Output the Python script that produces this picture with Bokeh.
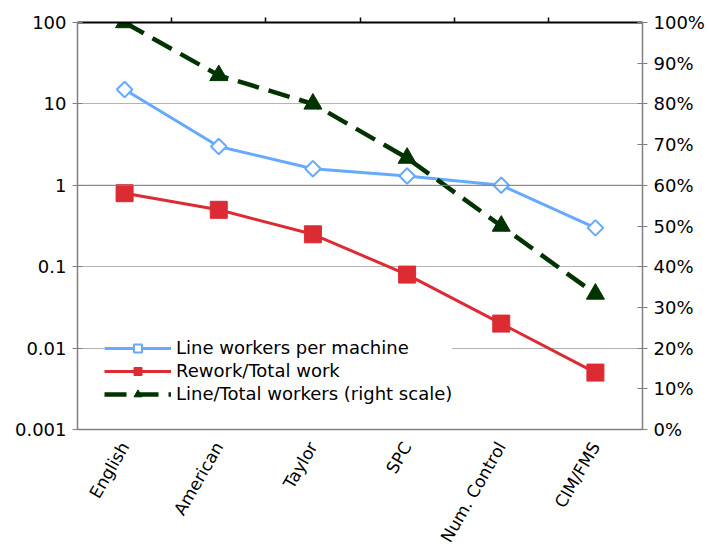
import numpy as np
from bokeh.plotting import figure
from bokeh.models import (Range1d, LinearAxis, FixedTicker, NumeralTickFormatter,
                          CustomJSTickFormatter, Legend, LegendItem, Span, LinearScale)
from bokeh.embed import file_html
from bokeh.resources import INLINE

categories = ["English", "American", "Taylor", "SPC", "Num. Control", "CIM/FMS"]
line_workers_per_machine = [15, 3, 1.6, 1.3, 1.0, 0.3]
rework_total_work = [0.8, 0.5, 0.25, 0.08, 0.02, 0.005]
line_total_workers = [1.0, 0.87, 0.80, 0.667, 0.50, 0.333]
left_ticks = [0.001, 0.01, 0.1, 1, 10, 100]
right_ticks = [0.0, 0.1, 0.2, 0.3, 0.4, 0.5, 0.6, 0.7, 0.8, 0.9, 1.0]
boundary_ticks = [1, 2, 3, 4, 5]

FONT = "DejaVu Sans"
BLUE = "#66aaff"
RED = "#dd2b33"
GREEN = "#003300"

p = figure(x_range=categories, y_range=Range1d(0.001, 100), y_axis_type="log",
           frame_width=565, frame_height=407, output_backend="svg",
           toolbar_location=None, background_fill_color="white",
           border_fill_color="white", outline_line_color=None,
           min_border_left=77, min_border_top=22, min_border_right=67,
           min_border_bottom=110)

p.extra_y_ranges = {"pct": Range1d(0, 1)}
p.extra_y_scales = {"pct": LinearScale()}

# Grid
p.xgrid.grid_line_color = None
p.ygrid.ticker = FixedTicker(ticks=left_ticks)
p.ygrid.grid_line_color = "#b3b3b3"
p.ygrid.grid_line_width = 1
p.add_layout(Span(location=1, dimension="width", line_color="#808080", line_width=1))

# Left axis
ya = p.yaxis[0]
ya.ticker = FixedTicker(ticks=left_ticks)
ya.formatter = CustomJSTickFormatter(code="return String(tick);")
ya.axis_line_color = "#808080"
ya.axis_line_width = 1.5
ya.major_tick_line_color = "#808080"
ya.major_tick_in = 5
ya.major_tick_out = 5
ya.minor_tick_line_color = None
ya.major_label_text_font = FONT
ya.major_label_text_font_size = "18px"
ya.major_label_text_color = "black"
ya.major_label_standoff = 6

# Right axis
ra = LinearAxis(y_range_name="pct", ticker=FixedTicker(ticks=right_ticks),
                formatter=NumeralTickFormatter(format="0%"))
ra.axis_line_color = "#808080"
ra.axis_line_width = 1.5
ra.major_tick_line_color = "#808080"
ra.major_tick_in = 5
ra.major_tick_out = 5
ra.minor_tick_line_color = None
ra.major_label_text_font = FONT
ra.major_label_text_font_size = "18px"
ra.major_label_text_color = "black"
ra.major_label_standoff = 6
p.add_layout(ra, "right")

# Bottom axis
xa = p.xaxis[0]
xa.axis_line_color = "#808080"
xa.axis_line_width = 1.5
xa.major_tick_line_color = None
xa.major_label_orientation = np.pi / 3
xa.major_label_text_font = FONT
xa.major_label_text_font_size = "17px"
xa.major_label_text_color = "black"
xa.major_label_standoff = 8

# Top axis (black line with ticks at category boundaries)
ta = LinearAxis(ticker=FixedTicker(ticks=boundary_ticks))
ta.axis_line_color = "black"
ta.axis_line_width = 2
ta.major_tick_line_color = "black"
ta.major_tick_line_width = 1.5
ta.major_tick_out = 5
ta.major_tick_in = 0
ta.minor_tick_line_color = None
ta.major_label_text_font_size = "0px"
ta.major_label_text_color = None
ta.major_label_standoff = 0
p.add_layout(ta, "above")

# Series
bl = p.line(categories, line_workers_per_machine, line_color=BLUE, line_width=3)
bm = p.scatter(categories, line_workers_per_machine, marker="square", angle=np.pi / 4,
               size=11, fill_color="white", line_color=BLUE, line_width=2)

rl = p.line(categories, rework_total_work, line_color=RED, line_width=3)
rm = p.scatter(categories, rework_total_work, marker="square", size=17,
               fill_color=RED, line_color=RED)

gl = p.line(categories, line_total_workers, y_range_name="pct", line_color=GREEN,
            line_width=4.5, line_dash="22 10")
gm = p.scatter(categories, line_total_workers, y_range_name="pct", marker="triangle",
               size=18, fill_color=GREEN, line_color=GREEN)

legend = Legend(items=[
    LegendItem(label="Line workers per machine", renderers=[bl, bm]),
    LegendItem(label="Rework/Total work", renderers=[rl, rm]),
    LegendItem(label="Line/Total workers (right scale)", renderers=[gl, gm]),
], location=(27, 25), orientation="vertical")
legend.label_text_font = FONT
legend.label_text_font_size = "18px"
legend.label_text_color = "black"
legend.glyph_width = 67
legend.glyph_height = 20
legend.label_standoff = 5
legend.spacing = 2
legend.padding = 0
legend.margin = 0
legend.border_line_color = None
legend.background_fill_color = "white"
legend.background_fill_alpha = 1.0
p.add_layout(legend, "center")

open("out.html", "w").write(file_html(p, INLINE))
